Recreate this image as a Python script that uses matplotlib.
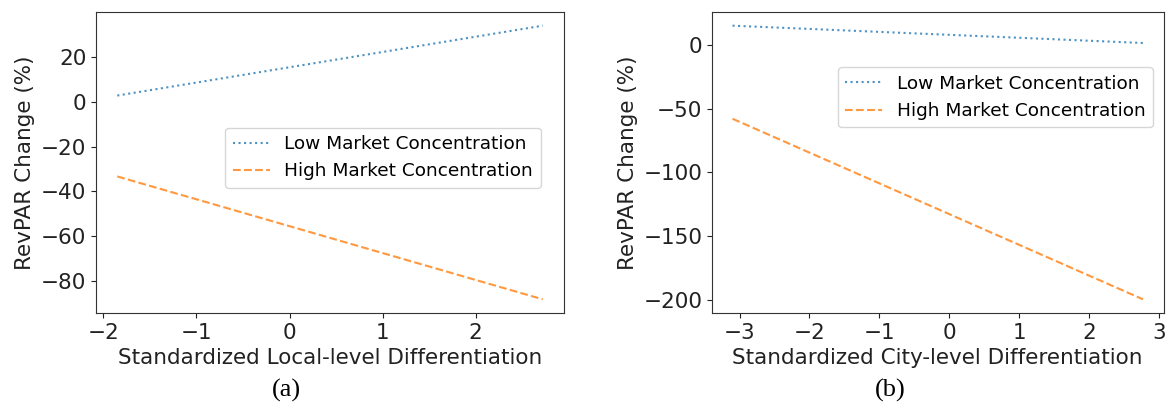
import numpy as np
import matplotlib
matplotlib.use('Agg')
import matplotlib.pyplot as plt

# panel (a): local-level differentiation
local_x = [-1.85, 2.72]
local_low = [2.7, 33.8]
local_high = [-33.3, -88.0]
local_xticks = [-2, -1, 0, 1, 2]
local_yticks = [-80, -60, -40, -20, 0, 20]

# panel (b): city-level differentiation
city_x = [-3.1, 2.77]
city_low = [15.1, 1.5]
city_high = [-58.0, -199.8]
city_xticks = [-3, -2, -1, 0, 1, 2, 3]
city_yticks = [-200, -150, -100, -50, 0]

series_labels = ['Low Market Concentration', 'High Market Concentration']
x_labels = ['Standardized Local-level Differentiation',
            'Standardized City-level Differentiation']
y_label = 'RevPAR Change (%)'
captions = ['(a)', '(b)']

FS = 15.5      # ticks and axis labels
LEG_FS = 13.3  # legend text

fig = plt.figure(figsize=(11.69, 4.16), dpi=100)
ax1 = fig.add_axes([96/1169, 103/416, 468/1169, 301/416])
ax2 = fig.add_axes([712/1169, 103/416, 451.5/1169, 301/416])


def draw_panel(ax, x, low, high, xticks, yticks, xlabel, anchor, loc):
    ax.plot(x, low, ':', color='tab:blue', alpha=0.8, label=series_labels[0])
    ax.plot(x, high, '--', color='tab:orange', alpha=0.8, label=series_labels[1])
    ax.set_xticks(xticks)
    ax.set_yticks(yticks)
    ax.set_xlabel(xlabel, fontsize=FS, color='#222222')
    ax.set_ylabel(y_label, fontsize=FS, color='#222222')
    ax.tick_params(labelsize=FS, colors='#222222')
    for sp in ax.spines.values():
        sp.set_color('#333333')
    ax.legend(loc=loc, bbox_to_anchor=anchor, borderaxespad=0, fontsize=LEG_FS)


draw_panel(ax1, local_x, local_low, local_high, local_xticks, local_yticks,
           x_labels[0], (0.950, 0.516), 'center right')
draw_panel(ax2, city_x, city_low, city_high, city_xticks, city_yticks,
           x_labels[1], (0.977, 0.816), 'upper right')

fig.text(286/1169, 1 - 390/416, captions[0], ha='center', va='center',
         fontsize=19, family='Liberation Serif')
fig.text(890/1169, 1 - 390/416, captions[1], ha='center', va='center',
         fontsize=19, family='Liberation Serif')

fig.savefig('out.png', dpi=100)
